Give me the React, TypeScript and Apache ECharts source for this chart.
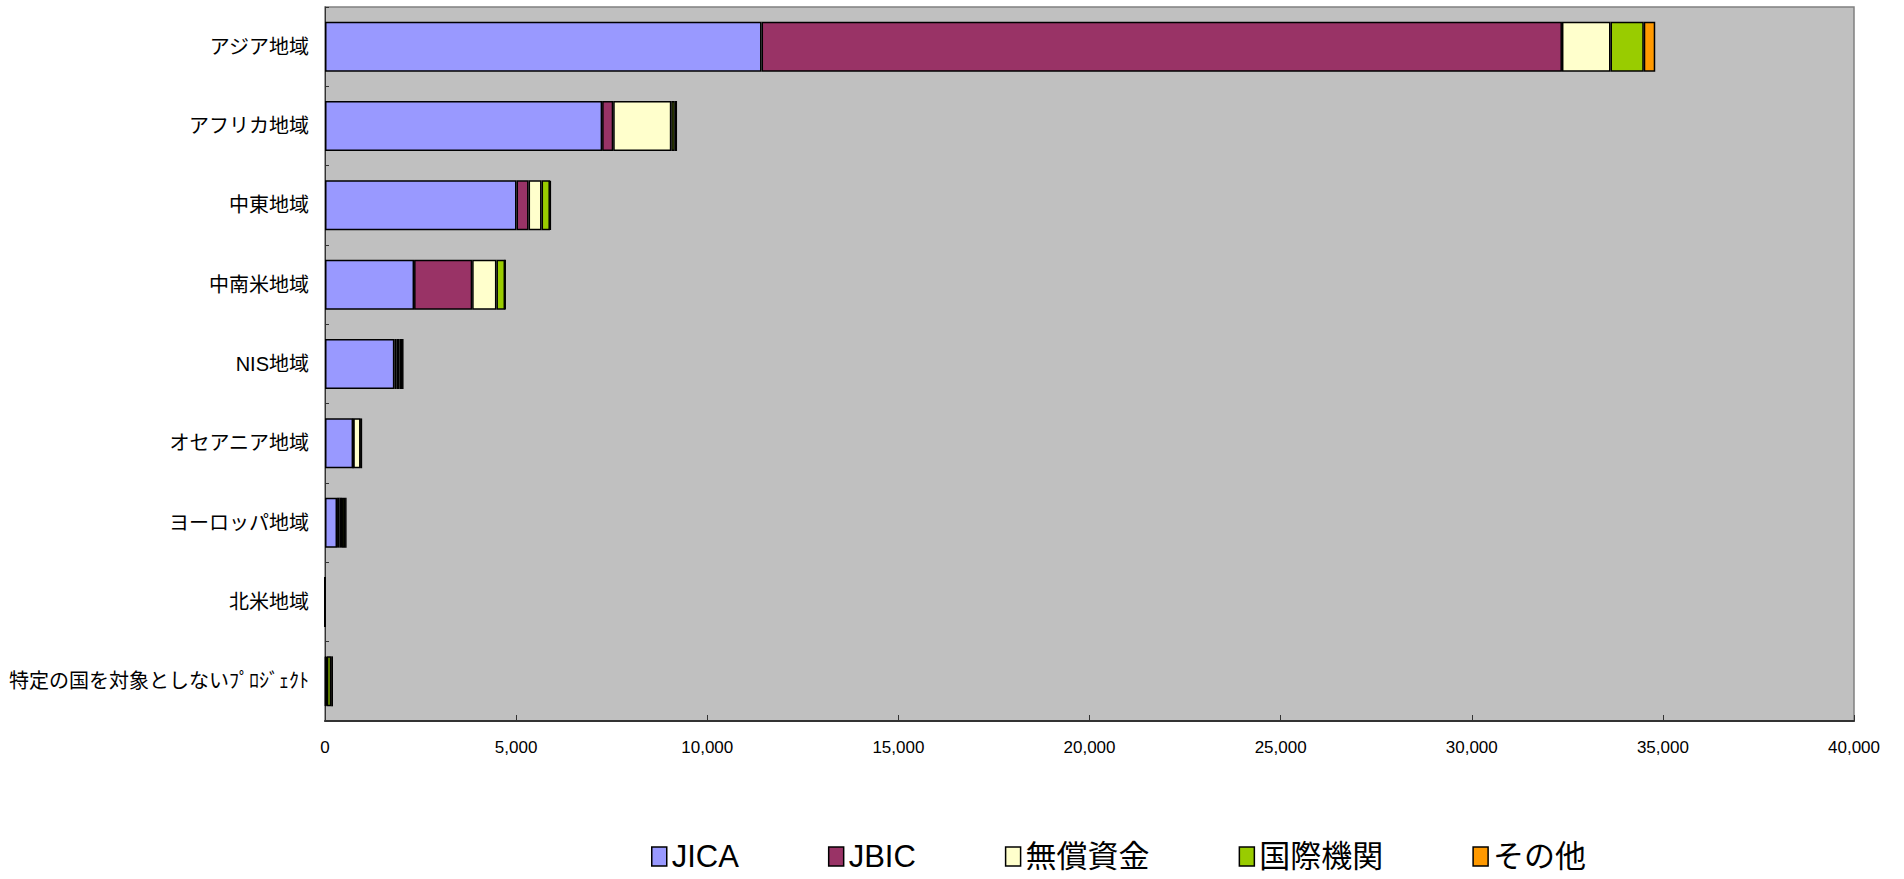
import React, { useEffect, useRef } from "react";
import * as echarts from "echarts";

const categories = [
  "アジア地域",
  "アフリカ地域",
  "中東地域",
  "中南米地域",
  "NIS地域",
  "オセアニア地域",
  "ヨーロッパ地域",
  "北米地域",
  "特定の国を対象としないﾌﾟﾛｼﾞｪｸﾄ",
];

const seriesNames = ["JICA", "JBIC", "無償資金", "国際機関", "その他"];
const seriesColors = ["#9999FF", "#993366", "#FFFFCC", "#99CC00", "#FF9900"];

const jica = [11420, 7250, 5010, 2330, 1815, 735, 315, 0, 20];
const jbic = [20940, 290, 315, 1520, 60, 5, 70, 0, 0];
const musho = [1270, 1520, 340, 635, 70, 190, 60, 0, 30];
const kokusai = [870, 90, 220, 225, 70, 20, 80, 0, 110];
const sonota = [300, 60, 20, 10, 40, 5, 40, 0, 50];

const seriesData = [jica, jbic, musho, kokusai, sonota];

const xMin = 0;
const xMax = 40000;
const xInterval = 5000;

const FONT = "'Liberation Sans', 'Noto Sans CJK JP', sans-serif";

export default function App() {
  const ref = useRef<HTMLDivElement>(null);

  useEffect(() => {
    if (!ref.current) return;
    const chart = echarts.init(ref.current, null, { renderer: "svg" });
    chart.setOption({
      animation: false,
      backgroundColor: "#FFFFFF",
      grid: {
        left: 325,
        right: 50,
        top: 7,
        bottom: 158,
        show: true,
        backgroundColor: "#C0C0C0",
        borderColor: "#808080",
        borderWidth: 1.5,
      },
      legend: {
        data: seriesNames,
        icon: "rect",
        left: 646,
        top: 836,
        itemWidth: 15,
        itemHeight: 19,
        itemGap: 89,
        textStyle: { fontSize: 31, color: "#000", fontFamily: FONT },
        itemStyle: { borderColor: "#000", borderWidth: 1.5 },
      },
      xAxis: {
        type: "value",
        min: xMin,
        max: xMax,
        interval: xInterval,
        axisLine: { show: true, lineStyle: { color: "#333", width: 2 } },
        axisTick: { show: true, inside: true, length: 6, lineStyle: { color: "#333" } },
        axisLabel: {
          fontSize: 17,
          color: "#000",
          fontFamily: FONT,
          margin: 18,
          formatter: (v: number) => v.toLocaleString("en-US"),
        },
        splitLine: { show: false },
      },
      yAxis: {
        type: "category",
        data: categories,
        inverse: true,
        axisLine: { show: true, lineStyle: { color: "#333", width: 1 } },
        axisTick: { show: true, inside: true, length: 4, lineStyle: { color: "#333" } },
        axisLabel: { fontSize: 20, color: "#000", fontFamily: FONT, margin: 16 },
      },
      series: seriesNames.map((name, i) => ({
        name,
        type: "bar",
        stack: "total",
        data: seriesData[i],
        barCategoryGap: "37%",
        itemStyle: { color: seriesColors[i], borderColor: "#000", borderWidth: 1.5 },
      })),
    });
    return () => chart.dispose();
  }, []);

  return (
    <div
      ref={ref}
      style={{ position: "fixed", left: 0, top: 0, width: "1904px", height: "879px" }}
    />
  );
}
